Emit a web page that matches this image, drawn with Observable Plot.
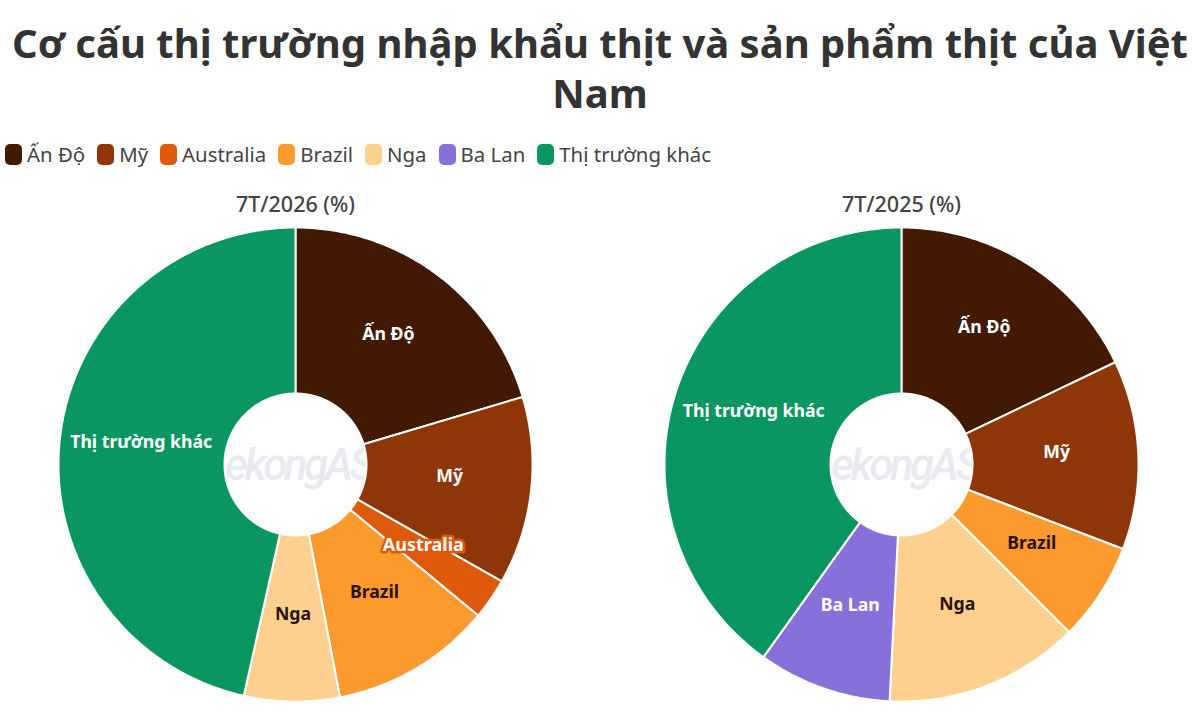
<!DOCTYPE html>
<html lang="vi">
<head>
<meta charset="utf-8">
<script src="https://cdn.jsdelivr.net/npm/d3@7"></script>
<script src="https://cdn.jsdelivr.net/npm/@observablehq/plot@0.6"></script>
<style>
  html, body { margin: 0; padding: 0; background: #fff; }
  body { width: 1200px; height: 719px; overflow: hidden; font-family: "Noto Sans", sans-serif; }
  h1 { margin: 0; height: 122px; padding-top: 18px; box-sizing: border-box; text-align: center; font-size: 40px; line-height: 50px; font-weight: 700; color: #333; }
  #legend { position: absolute; top: 143px; left: 5px; height: 22px; display: flex; gap: 12px; font-size: 20.4px; line-height: 22px; color: #444; }
  #legend span.item { display: flex; align-items: center; gap: 5px; }
  #legend i { display: block; width: 17px; height: 21px; border-radius: 5px; }
  #charts { position: absolute; top: 190px; left: 0; display: flex; }
  #charts svg { display: block; }
  .wm { letter-spacing: -3.5px; }
</style>
</head>
<body>
<h1>Cơ cấu thị trường nhập khẩu thịt và sản phẩm thịt của Việt Nam</h1>
<div id="legend"></div>
<div id="charts"></div>
<script>
const categories = ["Ấn Độ", "Mỹ", "Australia", "Brazil", "Nga", "Ba Lan", "Thị trường khác"];
const colors = ["#421a03", "#8f3608", "#de5a0a", "#fd9a2e", "#fdd08f", "#8870da", "#0a9660"];
const labelColors = ["#ffffff", "#ffffff", "#ffffff", "#2a1206", "#2a1206", "#ffffff", "#ffffff"];
const values2026 = [20.4, 12.8, 2.8, 11.0, 6.5, 0, 46.5];
const values2025 = [17.9, 12.9, 0, 6.7, 13.3, 9.1, 40.1];
const periods = ["7T/2026 (%)", "7T/2025 (%)"];
const watermark = "ekongAS";

const RADIUS = 237, INNER = 71 / 237, CX = 295, CY = 274, HEIGHT = 529;

function slices(values) {
  const arcs = d3.pie().sort(null).value(v => v)(values);
  const outline = [], labels = [];
  arcs.forEach((a, i) => {
    if (a.value <= 0) return;
    const pt = (t, r) => ({cat: categories[i], x: r * Math.sin(t), y: r * Math.cos(t)});
    const n = Math.max(2, Math.ceil((a.endAngle - a.startAngle) / 0.01));
    const ts = d3.range(n + 1).map(k => a.startAngle + (a.endAngle - a.startAngle) * k / n);
    for (const t of ts) outline.push(pt(t, 1));
    for (const t of ts.slice().reverse()) outline.push(pt(t, INNER));
    outline.push(pt(a.startAngle, 1));
    const mid = (a.startAngle + a.endAngle) / 2;
    labels.push({...pt(mid, 0.655), label: categories[i], fill: labelColors[i]});
  });
  return {outline, labels};
}

function pie(values, period, width) {
  const {outline, labels} = slices(values);
  const font = "'Noto Sans', sans-serif";
  return Plot.plot({
    width, height: HEIGHT,
    margin: 0,
    x: {axis: null, domain: [-CX / RADIUS, (width - CX) / RADIUS]},
    y: {axis: null, domain: [-(HEIGHT - CY) / RADIUS, CY / RADIUS]},
    color: {domain: categories, range: colors},
    style: {background: "transparent", overflow: "visible"},
    marks: [
      Plot.text([watermark], {x: () => 0, y: () => 0, text: d => d, dx: 3, dy: 1, fontSize: 44, fontStyle: "italic",
        fontFamily: "Roboto, sans-serif", fill: "#e9e9f1", fontWeight: 500, className: "wm"}),
      Plot.line(outline, {x: "x", y: "y", z: "cat", fill: "cat", stroke: "#fff", strokeWidth: 2, curve: "linear", strokeLinejoin: "miter"}),
      Plot.text(labels.filter(d => d.label !== "Australia"), {x: "x", y: "y", text: "label", dy: -5.5, fill: "fill", fontSize: 17.7, fontWeight: 700, fontFamily: font}),
      Plot.text(labels.filter(d => d.label === "Australia"), {x: "x", y: "y", text: "label", dy: -7, fill: "#fff", stroke: "#de5a0a", strokeWidth: 5, paintOrder: "stroke", fontSize: 18, fontWeight: 700, fontFamily: font}),
      Plot.text([period], {x: () => 0, y: () => CY / RADIUS, text: d => d, dy: 15, fontSize: 21.5, fontWeight: 500, fill: "#444", fontFamily: font})
    ]
  });
}

const legend = document.getElementById("legend");
categories.forEach((c, i) => {
  const item = document.createElement("span");
  item.className = "item";
  const sw = document.createElement("i");
  sw.style.background = colors[i];
  item.append(sw, document.createTextNode(c));
  legend.append(item);
});

const charts = document.getElementById("charts");
charts.append(pie(values2026, periods[0], 606), pie(values2025, periods[1], 594));
</script>
</body>
</html>
